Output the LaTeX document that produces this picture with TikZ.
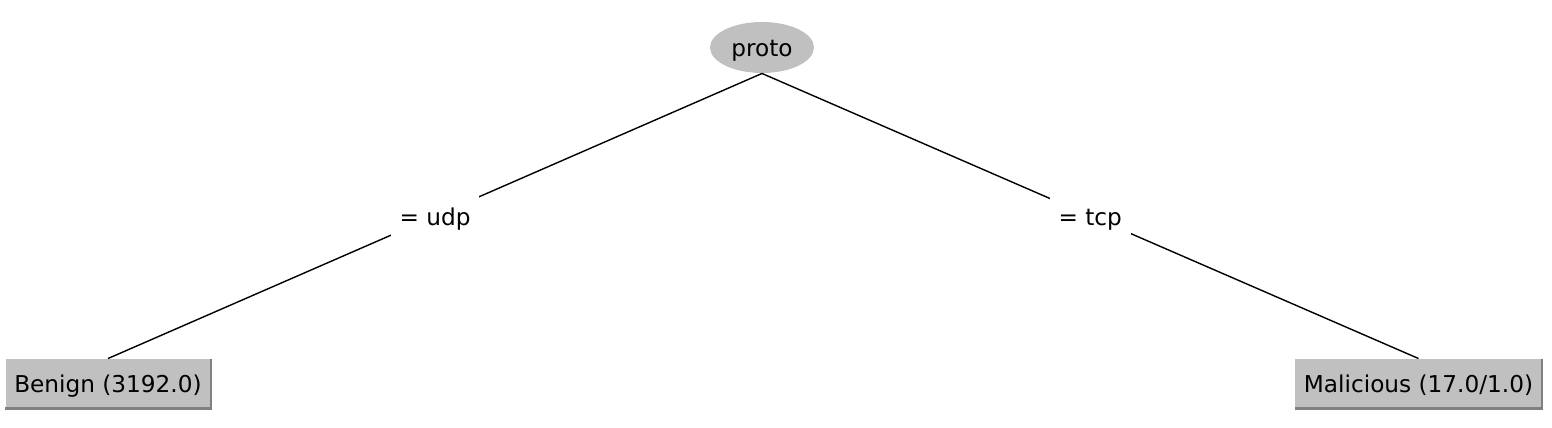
\documentclass[tikz,border=0pt]{standalone}
\usepackage{fontspec}
\setmainfont{DejaVu Sans}
\usetikzlibrary{shapes.geometric}

\definecolor{wekagray}{RGB}{192,192,192}
\definecolor{wekashade}{RGB}{128,128,128}

\tikzset{
  splitnode/.style={ellipse, fill=wekagray, minimum width=1.56cm, minimum height=0.765cm, inner sep=0pt, text height=0.29cm, text depth=0.03cm},
  leafnode/.style={rectangle, fill=wekagray, minimum height=0.735cm, inner xsep=0.13cm, inner ysep=0pt, text height=0.29cm, text depth=0.03cm},
  edgelabel/.style={fill=white, inner sep=0.135cm, text height=0.32cm, text depth=0.02cm},
  branch/.style={line width=0.6pt},
  leafshade/.style={draw=wekashade, line width=0.9pt}
}

\begin{document}
\begin{tikzpicture}[font=\fontsize{9.9}{12}\selectfont]
\useasboundingbox (0,0) rectangle (23.28,-6.42);

\draw (11.43,-0.7125)  node (proto) [splitnode] {proto};

\draw (1.62,-5.7525)   node (benign)    [leafnode] {Benign (3192.0)};
\draw (21.2775,-5.7525) node (malicious) [leafnode] {Malicious (17.0/1.0)};

% shadow on the leaves
\draw[leafshade] (benign.north east) -- (benign.south east) -- (benign.south west);
\draw[leafshade] (malicious.north east) -- (malicious.south east) -- (malicious.south west);

\draw[branch] (proto.south) -- node[edgelabel] {= udp} (benign.north);
\draw[branch] (proto.south) -- node[edgelabel] {= tcp} (malicious.north);
\end{tikzpicture}
\end{document}
